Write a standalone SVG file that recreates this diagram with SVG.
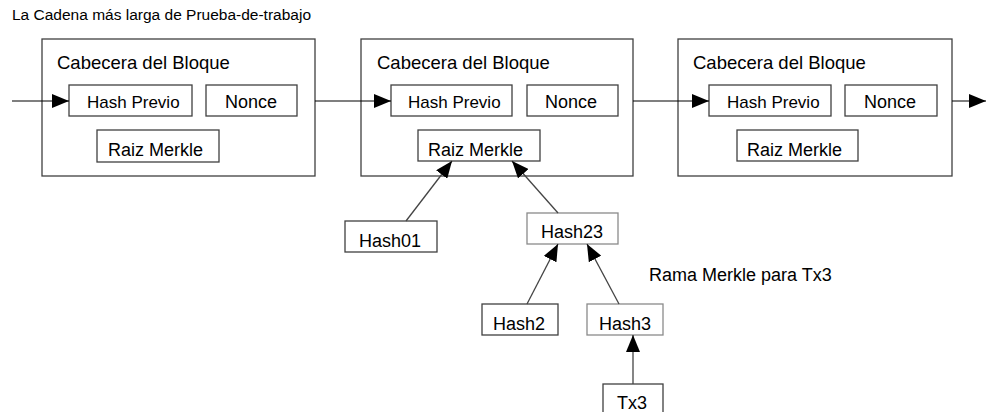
<svg xmlns="http://www.w3.org/2000/svg" width="986" height="412" viewBox="0 0 986 412">
<style>
text{font-family:"Liberation Sans",Arial,sans-serif;fill:#000}
.t{font-size:15.5px}
.h{font-size:18px}
.cb{font-size:18.5px}
.f{font-size:17px}
.blk{fill:#fff;stroke:#404040;stroke-width:1.3}
.box{fill:#fff;stroke:#404040;stroke-width:1.3}
.lt{fill:#fff;stroke:#8a8a8a;stroke-width:1.3}
.c{stroke:#000;stroke-width:1.2;fill:none}
.g{stroke:#444;stroke-width:1.3;fill:none}
</style>
<defs>
<marker id="ah" markerUnits="userSpaceOnUse" markerWidth="18" markerHeight="14" refX="17" refY="7" orient="auto">
<path d="M0,0 L17,7 L0,14 z" fill="#000"/>
</marker>
</defs>
<text class="t" x="12" y="20">La Cadena más larga de Prueba-de-trabajo</text>
<g id="block1">
<rect class="blk" x="42" y="39" width="273" height="137"/>
<text class="cb" x="57" y="69">Cabecera del Bloque</text>
<rect class="box" x="69" y="85" width="123" height="31"/>
<text class="f" x="87" y="108">Hash Previo</text>
<rect class="box" x="206" y="85" width="91" height="31"/>
<text class="h" x="225" y="108">Nonce</text>
<rect class="box" x="97" y="130" width="122" height="32"/>
<text class="h" x="108" y="156">Raiz Merkle</text>
</g>
<g id="block2">
<rect class="blk" x="361" y="39" width="272" height="137"/>
<text class="cb" x="377" y="69">Cabecera del Bloque</text>
<rect class="box" x="391" y="85" width="121" height="31"/>
<text class="f" x="408" y="108">Hash Previo</text>
<rect class="box" x="527" y="85" width="91" height="31"/>
<text class="h" x="545" y="108">Nonce</text>
<rect class="box" x="418" y="130" width="122" height="31"/>
<text class="h" x="428" y="156">Raiz Merkle</text>
</g>
<g id="block3">
<rect class="blk" x="678" y="39" width="274" height="137"/>
<text class="cb" x="693" y="69">Cabecera del Bloque</text>
<rect class="box" x="709" y="85" width="122" height="31"/>
<text class="f" x="727" y="108">Hash Previo</text>
<rect class="box" x="845" y="85" width="92" height="31"/>
<text class="h" x="864" y="108">Nonce</text>
<rect class="box" x="737" y="130" width="121" height="31"/>
<text class="h" x="747" y="156">Raiz Merkle</text>
</g>
<g id="hash01">
<rect class="box" x="345" y="221" width="92" height="31"/>
<text class="h" x="359" y="247">Hash01</text>
</g>
<g id="hash23">
<rect class="lt" x="527" y="213" width="91" height="31"/>
<text class="h" x="541" y="238">Hash23</text>
</g>
<g id="hash2">
<rect class="box" x="482" y="304" width="76" height="31"/>
<text class="h" x="493" y="330">Hash2</text>
</g>
<g id="hash3">
<rect class="lt" x="587" y="304" width="76" height="31"/>
<text class="h" x="599" y="330">Hash3</text>
</g>
<g id="tx3">
<rect class="box" x="603" y="384" width="60" height="40"/>
<text class="h" x="617" y="409">Tx3</text>
</g>
<text class="h" x="649" y="281">Rama Merkle para Tx3</text>
<g id="connectors">
<line class="c" x1="12" y1="101" x2="69" y2="101" marker-end="url(#ah)"/>
<line class="c" x1="315" y1="101" x2="391" y2="101" marker-end="url(#ah)"/>
<line class="c" x1="633" y1="101" x2="709" y2="101" marker-end="url(#ah)"/>
<line class="c" x1="952" y1="101" x2="986" y2="101" marker-end="url(#ah)"/>
<line class="g" x1="406" y1="221" x2="452" y2="161" marker-end="url(#ah)"/>
<line class="g" x1="558" y1="213" x2="512" y2="161" marker-end="url(#ah)"/>
<line class="g" x1="527" y1="304" x2="558" y2="244" marker-end="url(#ah)"/>
<line class="g" x1="619" y1="304" x2="587" y2="244" marker-end="url(#ah)"/>
<line class="g" x1="633" y1="384" x2="633" y2="335" marker-end="url(#ah)"/>
</g>
</svg>
